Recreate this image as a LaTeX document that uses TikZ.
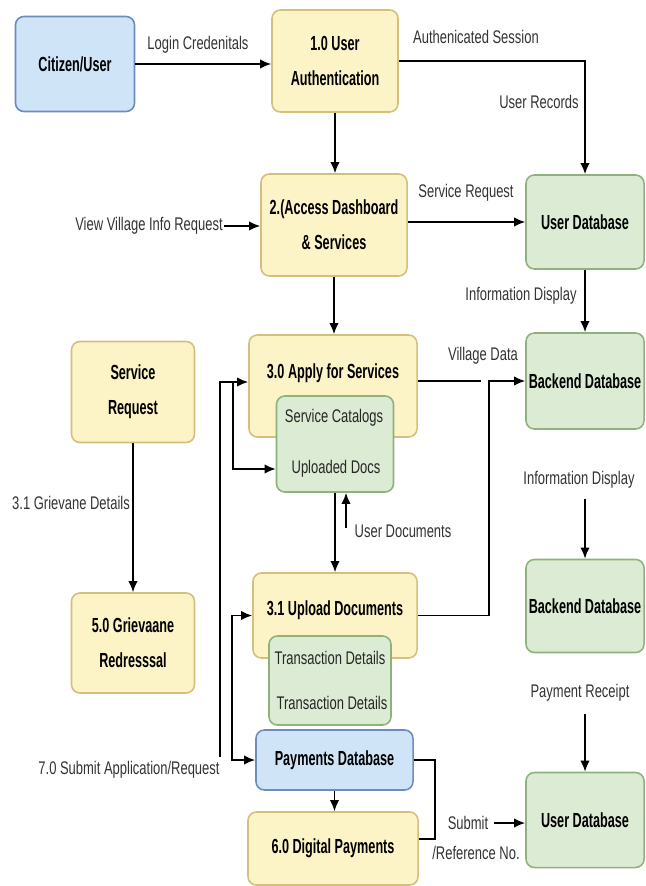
\documentclass[tikz,border=0pt]{standalone}
\usepackage{fontspec}
\setmainfont[FakeStretch=0.71]{Liberation Sans}
\newfontfamily\boxfont[FakeStretch=0.62]{Liberation Sans}
\definecolor{procfill}{HTML}{FCF4C6}
\definecolor{procline}{HTML}{D2C07C}
\definecolor{storefill}{HTML}{DCEBD3}
\definecolor{storeline}{HTML}{8DB27B}
\definecolor{extfill}{HTML}{CFE4F6}
\definecolor{extline}{HTML}{6C8DBB}
\definecolor{lbltext}{HTML}{333333}
\usetikzlibrary{arrows.meta,positioning}

\begin{document}
\begin{tikzpicture}[x=0.025cm, y=-0.025cm,
      box/.style={draw, line width=1.1pt, rounded corners=6pt, align=center,
        inner sep=2pt, font=\boxfont\fontsize{14.5}{25}\selectfont\bfseries},
      proc/.style={box, draw=procline, fill=procfill},
      store/.style={box, draw=storeline, fill=storefill},
      ext/.style={box, draw=extline, fill=extfill},
      ttl/.style={font=\boxfont\fontsize{14.5}{25}\selectfont\bfseries, inner sep=1pt},
      lbl/.style={font=\fontsize{13}{15}\selectfont, text=lbltext, inner sep=1pt},
      inlbl/.style={font=\fontsize{13}{15}\selectfont, text=black!85, inner sep=1pt},
      flow/.style={-{Latex[length=2.8mm,width=2.4mm]}, line width=1.3pt},
      plain/.style={line width=1.3pt},
    ]
    \useasboundingbox[fill=white] (0,0) rectangle (645,886);

    \node[ext, minimum width=2.975cm, minimum height=2.375cm] (citizen) at (75,64) {Citizen/User};
    \node[proc, minimum width=3.15cm, minimum height=2.55cm] (auth) at (335,61) {1.0 User\\Authentication};
    \node[proc, minimum width=3.65cm, minimum height=2.55cm] (dash) at (334,225) {2.(Access Dashboard\\\& Services};
    \node[store, minimum width=2.95cm, minimum height=2.35cm] (userdb) at (585,222) {User Database};
    \node[store, minimum width=2.95cm, minimum height=2.4cm] (backdb) at (585,381) {Backend Database};
    \node[store, minimum width=2.95cm, minimum height=2.325cm] (backdbb) at (585,606) {Backend Database};
    \node[store, minimum width=2.95cm, minimum height=2.375cm] (userdbb) at (585,820) {User Database};

    \node[proc, minimum width=3.075cm, minimum height=2.525cm] (svcreq) at (133,392) {Service\\Request};
    \node[proc, minimum width=3.075cm, minimum height=2.5cm] (griev) at (133,643) {5.0 Grievaane\\Redresssal};

    \node[proc, minimum width=4.2cm, minimum height=2.55cm] (apply) at (333,386) {};
    \node[ttl] (applyt) at (333,373) {3.0 Apply for Services};
    \node[store, minimum width=2.925cm, minimum height=2.4cm] (docs) at (335,444) {};
    \node[inlbl] (cat) at (334,418) {Service Catalogs};
    \node[inlbl] (upl) at (336,469) {Uploaded Docs};

    \node[proc, minimum width=4.1cm, minimum height=2.125cm] (upload) at (335,615.5) {};
    \node[ttl] (uploadt) at (335,610) {3.1 Upload Documents};
    \node[store, minimum width=3.05cm, minimum height=2.225cm] (trans) at (330,680.5) {};
    \node[inlbl] (transa) at (330,658) {Transaction Details};
    \node[inlbl] (transb) at (332,703) {Transaction Details};

    \node[ext, minimum width=3.925cm, minimum height=1.5cm] (pay) at (334.5,760) {Payments Database};
    \node[proc, minimum width=4.25cm, minimum height=1.825cm] (digi) at (333,848.5) {6.0 Digital Payments};

    \node[lbl] (login) at (198,45) {Login Credenitals};
    \node[lbl] (session) at (476,37) {Authenicated Session};
    \node[lbl] (records) at (539,102) {User Records};
    \node[lbl] (view) at (149,226) {View Village Info Request};
    \node[lbl] (svcflow) at (466,193) {Service Request};
    \node[lbl] (info) at (521,296) {Information Display};
    \node[lbl] (village) at (483,356) {Village Data};
    \node[lbl] (grievd) at (71,503) {3.1 Grievane Details};
    \node[lbl] (udocs) at (403,531) {User Documents};
    \node[lbl] (infob) at (579,480) {Information Display};
    \node[lbl] (receipt) at (580,693) {Payment Receipt};
    \node[lbl] (submitapp) at (129,770) {7.0 Submit Application/Request};
    \node[lbl] (submit) at (468,823) {Submit};
    \node[lbl] (refno) at (476,853) {/Reference No.};

    \coordinate (vjump) at (481,381);
    \coordinate (sub) at (220,757);
    \coordinate (jn) at (233,382);
    \coordinate (udoc) at (346,528);
    \coordinate (payturn) at (435,839);

    \draw[flow] (citizen.east) -- (citizen.east -| auth.west);
    \draw[flow] (auth.east) -| (userdb.north);
    \draw[flow] (auth.south) -- (auth.south |- dash.north);
    \draw[flow] (view.east) -- (view.east -| dash.west);
    \draw[flow] (dash.east |- userdb) -- (userdb.west);
    \draw[flow] (userdb.south) -- (backdb.north);
    \draw[flow] (dash.south) -- (dash.south |- apply.north);
    \draw[plain] (apply.east |- vjump) -- (vjump);
    \draw[flow] (upload.east) -- ++(71,0) |- (backdb.west);
    \draw[flow] (svcreq.south) -- (griev.north);
    \draw[flow] (sub) |- (jn -| apply.west);
    \draw[flow] (jn) |- (docs.west |- upl);
    \draw[flow] (docs.south) -- (docs.south |- upload.north);
    \draw[flow] (udoc) -- (udoc |- docs.south);
    \draw[flow, {Latex[length=2.8mm,width=2.4mm]}-{Latex[length=2.8mm,width=2.4mm]}]
      (upload.west) -- ++(-20,0) |- (pay.west);
    \draw[flow] (pay.south) -- (pay.south |- digi.north);
    \draw[plain] (pay.east) -| (payturn) -- (payturn -| digi.east);
    \draw[flow] (submit.east) ++(4,0) -- (submit.east -| userdbb.west);
    \draw[flow, shorten <=6pt] (infob.south -| backdbb.north) -- (backdbb.north);
    \draw[flow, shorten <=8pt] (receipt.south -| userdbb.north) -- (userdbb.north);
  \end{tikzpicture}
\end{document}
